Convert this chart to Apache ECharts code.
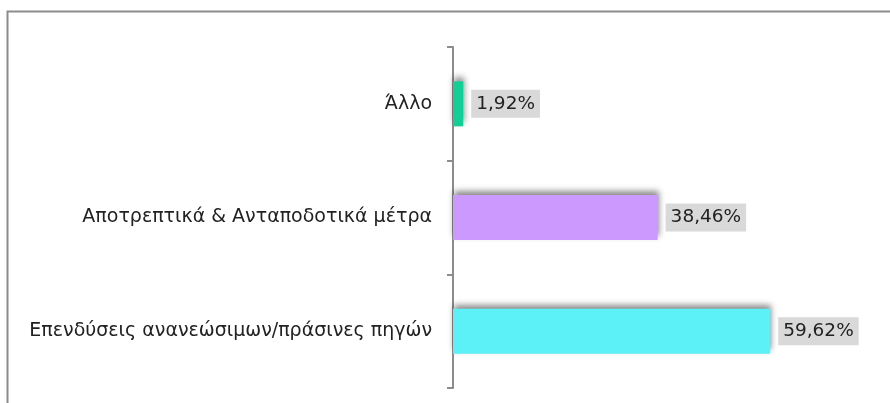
<!DOCTYPE html>
<html><head><meta charset="utf-8">
<script src="https://cdn.jsdelivr.net/npm/echarts@6/dist/echarts.min.js"></script>
<style>html,body{margin:0;padding:0;background:#fff}#c{width:890px;height:403px}</style>
</head><body><div id="c"></div>
<script>
const categories = ["Άλλο", "Αποτρεπτικά & Ανταποδοτικά μέτρα", "Επενδύσεις ανανεώσιμων/πράσινες πηγών"];
const values = [1.92, 38.46, 59.62];
const colors = ["#14CE98", "#CC99FF", "#5CF1F7"];

const chart = echarts.init(document.getElementById('c'));
chart.setOption({
  animation: false,
  backgroundColor: '#fff',
  graphic: [{
    type: 'rect', left: 5, top: 9, shape: {width: 1000, height: 500},
    style: {fill: 'none', stroke: '#8c8c8c', lineWidth: 2}, silent: true, z: -1
  }],
  grid: {left: 453, top: 47, width: 425.6, height: 341},
  xAxis: {type: 'value', min: 0, max: 80, show: false},
  yAxis: {
    type: 'category', data: categories, inverse: true,
    axisLine: {show: true, lineStyle: {color: '#8c8c8c', width: 2}},
    axisTick: {show: true, length: 6, lineStyle: {color: '#8c8c8c', width: 2}},
    axisLabel: {color: '#222', fontSize: 19, fontFamily: 'DejaVu Sans', margin: 21}
  },
  series: [{
    type: 'bar',
    barWidth: 45,
    data: values.map((v, i) => ({value: v, itemStyle: {color: colors[i]}})),
    itemStyle: {shadowColor: 'rgba(0,0,0,0.45)', shadowBlur: 6, shadowOffsetX: 1, shadowOffsetY: -4},
    label: {
      show: true, position: 'right', distance: 8,
      formatter: p => p.value.toFixed(2).replace('.', ',') + '%',
      color: '#222', fontSize: 18.5, fontFamily: 'DejaVu Sans',
      backgroundColor: '#d9d9d9', padding: [5, 5, 4, 5]
    }
  }]
});
</script></body></html>
